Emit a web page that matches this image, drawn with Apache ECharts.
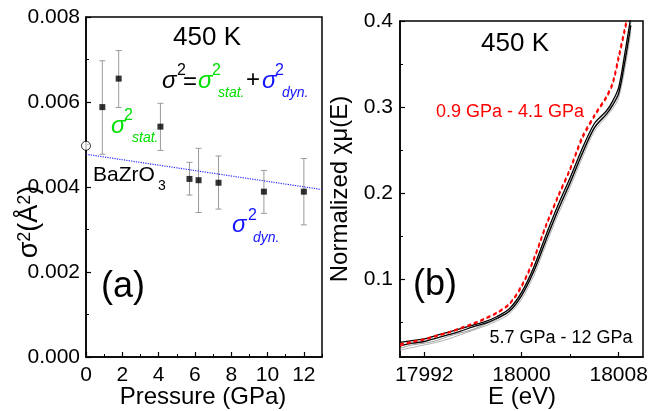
<!DOCTYPE html>
<html><head><meta charset="utf-8">
<script src="https://cdn.jsdelivr.net/npm/echarts@6/dist/echarts.min.js"></script>
<style>html,body{margin:0;padding:0;background:#fff}#c{width:649px;height:411px}</style>
</head><body><div id="c"></div>
<script>
// ---------- Panel (a) data ----------
const pressures = [0.9, 1.8, 4.1, 5.7, 6.2, 7.3, 9.8, 12];
const sigma2    = [0.00588, 0.00655, 0.00542, 0.00419, 0.00416, 0.00410, 0.00389, 0.00389];
const sigma2Hi  = [0.00697, 0.00721, 0.00597, 0.00458, 0.00491, 0.00473, 0.00439, 0.00467];
const sigma2Lo  = [0.00477, 0.00587, 0.00486, 0.00381, 0.00340, 0.00348, 0.00338, 0.00311];
const bulkPressure = [0];
const bulkSigma2 = [0.00497];
const dynLinePressure = [0, 13];
const dynLineSigma2 = [0.00477, 0.00394];

// ---------- Panel (b) data ----------
const energies = [17990, 17991, 17992, 17993, 17994, 17995, 17996, 17997, 17998, 17999, 18000, 18001, 18002, 18003, 18004, 18005, 18006, 18007, 18007.5, 18008, 18008.5, 18009];
const muRed1   = [0.025, 0.028, 0.031, 0.035, 0.039, 0.044, 0.049, 0.055, 0.062, 0.072, 0.093, 0.124, 0.163, 0.197, 0.229, 0.266, 0.291, 0.313, 0.329, 0.360, 0.392, 0.425];
const muRed2   = [0.023, 0.027, 0.030, 0.034, 0.038, 0.043, 0.048, 0.054, 0.061, 0.071, 0.091, 0.122, 0.161, 0.195, 0.227, 0.263, 0.289, 0.311, 0.326, 0.356, 0.388, 0.421];
const muBlack1 = [0.027, 0.029, 0.031, 0.035, 0.039, 0.043, 0.047, 0.051, 0.057, 0.066, 0.085, 0.114, 0.151, 0.186, 0.218, 0.252, 0.281, 0.296, 0.307, 0.323, 0.362, 0.405];
const muBlack2 = [0.023, 0.026, 0.028, 0.032, 0.036, 0.040, 0.045, 0.049, 0.055, 0.063, 0.081, 0.109, 0.145, 0.180, 0.212, 0.246, 0.276, 0.292, 0.302, 0.316, 0.352, 0.395];
const muGray1  = [0.018, 0.021, 0.024, 0.027, 0.031, 0.036, 0.041, 0.046, 0.052, 0.060, 0.077, 0.104, 0.140, 0.175, 0.207, 0.241, 0.272, 0.289, 0.298, 0.311, 0.344, 0.387];
const muGray2  = [0.020, 0.024, 0.026, 0.029, 0.034, 0.038, 0.042, 0.048, 0.054, 0.064, 0.083, 0.111, 0.147, 0.182, 0.214, 0.248, 0.277, 0.294, 0.304, 0.318, 0.356, 0.399];

// ---------- tick values ----------
const energyTicks = [17992, 18000, 18008];
const energyMinorTicks = [17996, 18004];
const muTicks = [0.1, 0.2, 0.3, 0.4];
const muMinorTicks = [0.05, 0.15, 0.25, 0.35];

const FONT = 'Liberation Sans, Arial, sans-serif';
const zip = (a, b) => a.map((v, i) => [v, b[i]]);

const chart = echarts.init(document.getElementById('c'), null, {renderer: 'canvas'});

const axisLineStyle = {show: true, lineStyle: {color: '#000', width: 1.5}};
const labelStyle = {color: '#000', fontSize: 21, fontFamily: FONT};

function txt(text, x, y, size, color, opts) {
  opts = opts || {};
  return {
    type: 'text', x: x, y: y, silent: true, rotation: opts.rotation || 0,
    style: {
      text: text, fill: color, fontSize: size, fontFamily: FONT,
      fontStyle: opts.italic ? 'italic' : 'normal',
      align: opts.align || 'left', verticalAlign: 'middle',
      rich: opts.rich
    }
  };
}

const GREEN = '#00e000';
const BLUE = '#1414ff';

const option = {
  animation: false,
  backgroundColor: '#fff',
  grid: [
    {left: 86, top: 17, width: 236, height: 340, show: true, borderColor: '#000', borderWidth: 1.5,
     backgroundColor: 'transparent', containLabel: false, outerBoundsMode: 'none'},
    {left: 400, top: 21, width: 243, height: 336, show: true, borderColor: '#000', borderWidth: 1.5,
     backgroundColor: 'transparent', containLabel: false, outerBoundsMode: 'none'}
  ],
  xAxis: [
    {gridIndex: 0, type: 'value', position: 'bottom', min: 0, max: 13, interval: 2,
     axisLine: axisLineStyle, axisTick: {inside: true, length: 5, lineStyle: {color: '#000', width: 1.2}},
     axisLabel: Object.assign({margin: 8, showMaxLabel: false, formatter: v => String(v)}, labelStyle), splitLine: {show: false}},
    {gridIndex: 0, type: 'value', position: 'bottom', min: 0, max: 13, interval: 1,
     axisLine: {show: false}, axisTick: {inside: true, length: 3, lineStyle: {color: '#000', width: 1}},
     axisLabel: {show: false}, splitLine: {show: false}},
    {gridIndex: 1, type: 'value', position: 'bottom', min: 17990, max: 18010,
     axisLine: axisLineStyle,
     axisTick: {inside: true, length: 5, customValues: energyTicks, lineStyle: {color: '#000', width: 1.2}},
     axisLabel: Object.assign({margin: 8, customValues: energyTicks, formatter: v => String(v)}, labelStyle), splitLine: {show: false}},
    {gridIndex: 1, type: 'value', position: 'bottom', min: 17990, max: 18010,
     axisLine: {show: false},
     axisTick: {inside: true, length: 3, customValues: energyMinorTicks, lineStyle: {color: '#000', width: 1}},
     axisLabel: {show: false}, splitLine: {show: false}}
  ],
  yAxis: [
    {gridIndex: 0, type: 'value', position: 'left', min: 0, max: 0.008, interval: 0.002,
     axisLine: axisLineStyle,
     axisTick: {inside: true, length: 5, lineStyle: {color: '#000', width: 1.2}},
     minorTick: {show: true, splitNumber: 2, length: 3, lineStyle: {color: '#000', width: 1}},
     axisLabel: Object.assign({margin: 6, formatter: v => v.toFixed(3)}, labelStyle),
     splitLine: {show: false}, minorSplitLine: {show: false}},
    {gridIndex: 1, type: 'value', position: 'left', min: 0.01, max: 0.4,
     axisLine: axisLineStyle,
     axisTick: {inside: true, length: 5, customValues: muTicks, lineStyle: {color: '#000', width: 1.2}},
     axisLabel: Object.assign({margin: 7, customValues: muTicks, formatter: v => String(Math.round(v * 10) / 10)}, labelStyle),
     splitLine: {show: false}},
    {gridIndex: 1, type: 'value', position: 'left', min: 0.01, max: 0.4,
     axisLine: {show: false},
     axisTick: {inside: true, length: 3, customValues: muMinorTicks, lineStyle: {color: '#000', width: 1}},
     axisLabel: {show: false}, splitLine: {show: false}}
  ],
  series: [
    // error bars
    {type: 'custom', xAxisIndex: 0, yAxisIndex: 0, z: 2,
     data: pressures.map((p, i) => [p, sigma2Lo[i], sigma2Hi[i]]),
     encode: {x: 0, y: [1, 2]},
     renderItem: function (params, api) {
       const x = api.value(0), lo = api.value(1), hi = api.value(2);
       const a = api.coord([x, lo]), b = api.coord([x, hi]);
       const cw = 3;
       const st = {stroke: '#9a9a9a', lineWidth: 1};
       return {type: 'group', children: [
         {type: 'line', shape: {x1: a[0], y1: a[1], x2: b[0], y2: b[1]}, style: st},
         {type: 'line', shape: {x1: a[0] - cw, y1: a[1], x2: a[0] + cw, y2: a[1]}, style: st},
         {type: 'line', shape: {x1: b[0] - cw, y1: b[1], x2: b[0] + cw, y2: b[1]}, style: st}
       ]};
     }},
    // dynamic (dotted) line
    {type: 'line', xAxisIndex: 0, yAxisIndex: 0, data: zip(dynLinePressure, dynLineSigma2),
     symbol: 'none', lineStyle: {color: '#2a2aff', width: 1.2, type: 'dotted'}, z: 3},
    // data squares
    {type: 'scatter', xAxisIndex: 0, yAxisIndex: 0, data: zip(pressures, sigma2),
     symbol: 'rect', symbolSize: 6, itemStyle: {color: '#000'}, z: 4},
    // bulk open circle
    {type: 'scatter', xAxisIndex: 0, yAxisIndex: 0, data: zip(bulkPressure, bulkSigma2), clip: false,
     symbol: 'circle', symbolSize: 9, itemStyle: {color: '#fff', borderColor: '#000', borderWidth: 1}, z: 1},
    // panel (b) curves
    {type: 'line', xAxisIndex: 2, yAxisIndex: 1, data: zip(energies, muGray1), symbol: 'none', smooth: 0.3,
     lineStyle: {color: '#b0b0b0', width: 1}, z: 2},
    {type: 'line', xAxisIndex: 2, yAxisIndex: 1, data: zip(energies, muGray2), symbol: 'none', smooth: 0.3,
     lineStyle: {color: '#9a9a9a', width: 1}, z: 2},
    {type: 'line', xAxisIndex: 2, yAxisIndex: 1, data: zip(energies, muBlack2), symbol: 'none', smooth: 0.3,
     lineStyle: {color: '#000', width: 1.3}, z: 3},
    {type: 'line', xAxisIndex: 2, yAxisIndex: 1, data: zip(energies, muBlack1), symbol: 'none', smooth: 0.3,
     lineStyle: {color: '#000', width: 1.3}, z: 3},
    {type: 'line', xAxisIndex: 2, yAxisIndex: 1, data: zip(energies, muRed2), symbol: 'none', smooth: 0.3,
     lineStyle: {color: '#ff0000', width: 1.5, type: [4, 3]}, z: 4},
    {type: 'line', xAxisIndex: 2, yAxisIndex: 1, data: zip(energies, muRed1), symbol: 'none', smooth: 0.3,
     lineStyle: {color: '#ff0000', width: 1.5, type: [4, 3]}, z: 4}
  ],
  graphic: [
    // axis titles
    txt('Pressure (GPa)', 203, 397, 24, '#000', {align: 'center'}),
    txt('E (eV)', 522, 397, 24, '#000', {align: 'center'}),
    txt('{a|σ}{s|2}{a|(Å}{s|2}{a|)}', 30, 222, 27, '#000', {rotation: Math.PI / 2, align: 'center',
      rich: {a: {fontSize: 27, fontFamily: FONT, fill: '#000'}, s: {fontSize: 18, fontFamily: FONT, fill: '#000', verticalAlign: 'top'}}}),
    txt('Normalized χμ(E)', 340, 189, 24, '#000', {rotation: Math.PI / 2, align: 'center'}),
    // titles
    txt('450 K', 207, 38, 26, '#000', {align: 'center'}),
    txt('450 K', 515, 44, 26, '#000', {align: 'center'}),
    // formula
    txt('σ', 162, 81, 24, '#000', {italic: true}),
    txt('2', 177, 71, 16, '#000'),
    txt('=', 183, 82, 24, '#000'),
    txt('σ', 198, 81, 24, GREEN, {italic: true}),
    txt('2', 212, 71, 16, GREEN),
    txt('stat.', 218, 93, 14, GREEN, {italic: true}),
    txt('+', 246, 80, 24, '#000'),
    txt('σ', 262, 81, 24, BLUE, {italic: true}),
    txt('2', 275, 71, 16, BLUE),
    txt('dyn.', 282, 93, 14, BLUE, {italic: true}),
    // sigma stat label
    txt('σ', 111, 126, 24, GREEN, {italic: true}),
    txt('2', 124, 116, 16, GREEN),
    txt('stat.', 132, 138, 14, GREEN, {italic: true}),
    // BaZrO3
    txt('BaZrO', 93, 175, 21, '#000'),
    txt('3', 158, 186, 14, '#000'),
    // sigma dyn label
    txt('σ', 232, 225, 24, BLUE, {italic: true}),
    txt('2', 248, 216, 16, BLUE),
    txt('dyn.', 253, 238, 14, BLUE, {italic: true}),
    // panel letters
    txt('(a)', 123, 287, 36, '#000', {align: 'center'}),
    txt('(b)', 435, 285, 36, '#000', {align: 'center'}),
    // pressure range labels
    txt('0.9 GPa - 4.1 GPa', 510, 112, 18, '#ff0000', {align: 'center'}),
    txt('5.7 GPa - 12 GPa', 561, 338, 18, '#000', {align: 'center'})
  ]
};
chart.setOption(option);
</script>
</body></html>
